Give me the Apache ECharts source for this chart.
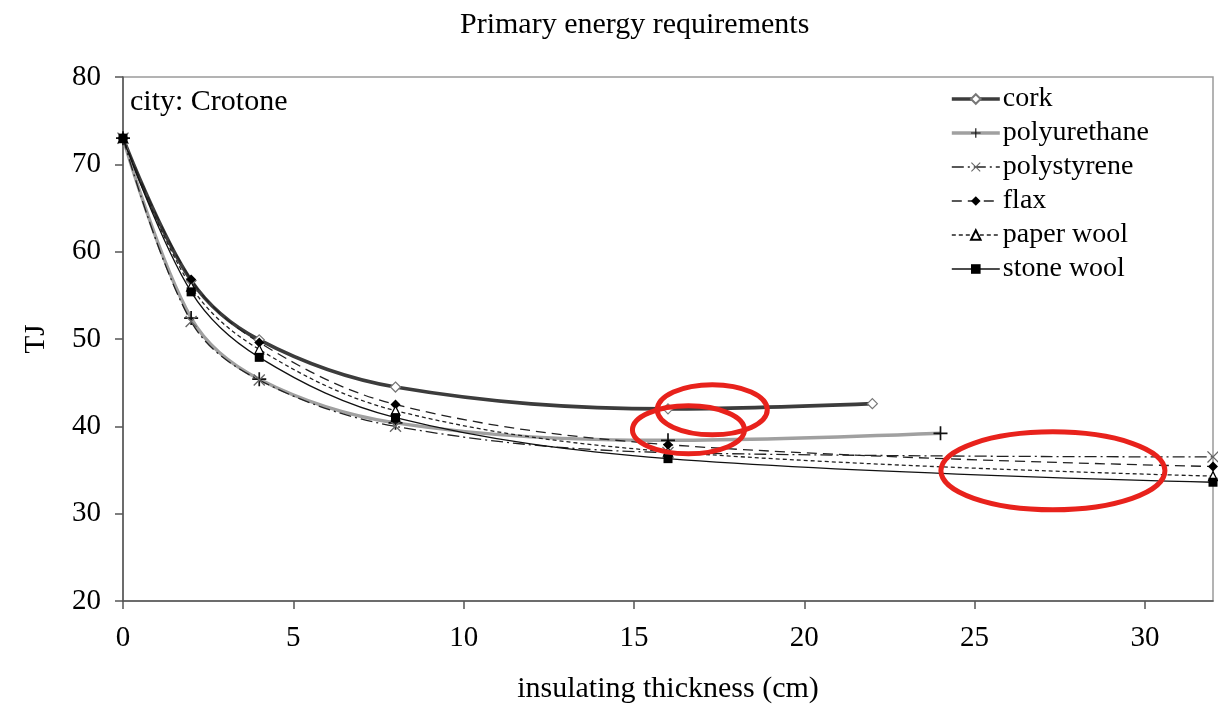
<!DOCTYPE html>
<html>
<head>
<meta charset="utf-8">
<script src="https://cdn.jsdelivr.net/npm/echarts@6/dist/echarts.min.js"></script>
<style>
  html, body { margin: 0; padding: 0; background: #fff; }
  #chart { width: 1218px; height: 712px; }
</style>
</head>
<body>
<div id="chart"></div>
<script>
// Insulation thickness (cm) sampled for each material
const corkX = [0, 2, 4, 8, 16, 22];
const polyurethaneX = [0, 2, 4, 8, 16, 24];
const longX = [0, 2, 4, 8, 16, 32];

// Primary energy requirements (TJ), city: Crotone
const cork = [73.0, 56.7, 49.9, 44.5, 42.0, 42.6];
const polyurethane = [73.0, 52.4, 45.4, 40.4, 38.4, 39.2];
const polystyrene = [73.0, 52.0, 45.3, 40.0, 37.0, 36.5];
const flax = [73.0, 56.8, 49.6, 42.5, 37.9, 35.4];
const paperWool = [73.0, 56.0, 48.8, 41.8, 37.1, 34.3];
const stoneWool = [73.0, 55.4, 47.9, 41.0, 36.3, 33.6];

const xTicks = [0, 5, 10, 15, 20, 25, 30];
const yTicks = [20, 30, 40, 50, 60, 70, 80];

// Highlight rings: centre in data units, radii in pixels
const rings = [
  { x: 17.3, y: 41.9, rx: 55, ry: 25 },
  { x: 16.6, y: 39.6, rx: 56, ry: 24 },
  { x: 27.3, y: 34.9, rx: 112, ry: 39 }
];

const pairs = (xs, ys) => xs.map((x, i) => [x, ys[i]]);

const serif = '"Liberation Serif", "Times New Roman", serif';
const plusPath = 'path://M0,4.4H10V5.6H0Z M4.4,0H5.6V10H4.4Z';
const crossPath = 'path://M0,0.8L0.8,0L10,9.2L9.2,10Z M9.2,0L10,0.8L0.8,10L0,9.2Z';

const chart = echarts.init(document.getElementById('chart'), null, { renderer: 'canvas' });

const seriesDefs = [
  { name: 'cork', data: pairs(corkX, cork), color: '#3c3c3c', width: 3.6, type: 'solid',
    symbol: 'diamond', size: 10, fill: '#fff', border: '#777' },
  { name: 'polyurethane', data: pairs(polyurethaneX, polyurethane), color: '#a0a0a0', width: 3.4, type: 'solid',
    symbol: plusPath, size: 14, fill: '#111', border: null },
  { name: 'polystyrene', data: pairs(longX, polystyrene), color: '#222', width: 1.3, type: [12, 4, 2, 4],
    symbol: crossPath, size: 12, fill: '#666', border: null },
  { name: 'flax', data: pairs(longX, flax), color: '#222', width: 1.3, type: [10, 6],
    symbol: 'diamond', size: 10, fill: '#000', border: null },
  { name: 'paper wool', data: pairs(longX, paperWool), color: '#222', width: 1.3, type: [4, 3],
    symbol: 'triangle', size: 9, fill: '#fff', border: '#000' },
  { name: 'stone wool', data: pairs(longX, stoneWool), color: '#111', width: 1.3, type: 'solid',
    symbol: 'rect', size: 9, fill: '#000', border: null }
];

const option = {
  animation: false,
  backgroundColor: '#fff',
  title: {
    text: 'Primary energy requirements',
    left: 455,
    top: 5,
    textStyle: { fontFamily: serif, fontSize: 30, fontWeight: 'normal', color: '#000' }
  },
  grid: {
    left: 123, right: 5, top: 77, bottom: 111,
    show: true, borderColor: '#9a9a9a', borderWidth: 1.5, backgroundColor: '#fff'
  },
  legend: {
    orient: 'vertical',
    left: 945,
    top: 77,
    itemWidth: 48,
    itemHeight: 12,
    itemGap: 0,
    textStyle: { fontFamily: serif, fontSize: 28, color: '#000', lineHeight: 34, padding: [0, 0, 0, -2] },
    data: seriesDefs.map(s => ({ name: s.name, lineStyle: { width: s.width, color: s.color } }))
  },
  xAxis: {
    type: 'value',
    min: 0, max: 32, interval: 5,
    name: 'insulating thickness (cm)',
    nameLocation: 'middle',
    nameGap: 73,
    nameTextStyle: { fontFamily: serif, fontSize: 30, color: '#000' },
    axisLine: { onZero: false, lineStyle: { color: '#555', width: 1.5 } },
    axisTick: { show: true, length: 8, inside: false, customValues: xTicks, lineStyle: { color: '#555', width: 1.5 } },
    axisLabel: { customValues: xTicks, margin: 23, fontFamily: serif, fontSize: 29, color: '#000' },
    splitLine: { show: false }
  },
  yAxis: {
    type: 'value',
    min: 20, max: 80, interval: 10,
    name: 'TJ',
    nameLocation: 'middle',
    nameGap: 72,
    nameRotate: 90,
    nameTextStyle: { fontFamily: serif, fontSize: 29, color: '#000' },
    axisLine: { show: true, onZero: false, lineStyle: { color: '#555', width: 1.5 } },
    axisTick: { show: true, length: 8, inside: false, customValues: yTicks, lineStyle: { color: '#555', width: 1.5 } },
    axisLabel: { customValues: yTicks, margin: 22, fontFamily: serif, fontSize: 29, color: '#000' },
    splitLine: { show: false }
  },
  series: seriesDefs.map(s => ({
    name: s.name,
    type: 'line',
    data: s.data,
    smooth: 0.35,
    symbol: s.symbol,
    symbolSize: s.size,
    showAllSymbol: true,
    lineStyle: { color: s.color, width: s.width, type: s.type },
    itemStyle: s.border
      ? { color: s.fill, borderColor: s.border, borderWidth: 1.2 }
      : { color: s.fill, borderWidth: 0 },
    emphasis: { disabled: true }
  })),
  graphic: [
    {
      type: 'text',
      left: 130,
      top: 87,
      style: { text: 'city: Crotone', font: '30px ' + serif, fill: '#000' }
    }
  ]
};

chart.setOption(option);

// Red highlight rings, anchored to data coordinates
const ringGraphics = rings.map(r => {
  const c = chart.convertToPixel({ gridIndex: 0 }, [r.x, r.y]);
  return {
    type: 'ellipse',
    shape: { cx: c[0], cy: c[1], rx: r.rx, ry: r.ry },
    style: { fill: 'none', stroke: '#e8221c', lineWidth: 5 },
    z: 100
  };
});
chart.setOption({ graphic: option.graphic.concat(ringGraphics) });
</script>
</body>
</html>
